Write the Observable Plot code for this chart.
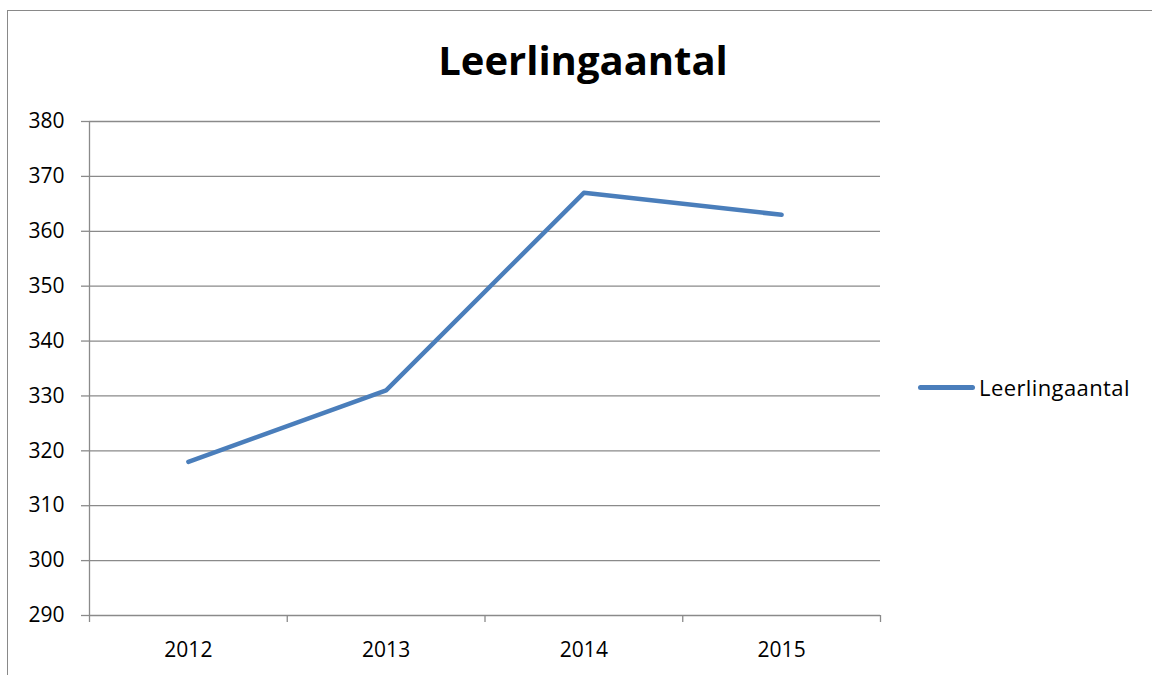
<!DOCTYPE html>
<html>
<head>
<meta charset="utf-8">
<script src="https://cdn.jsdelivr.net/npm/d3@7"></script>
<script src="https://cdn.jsdelivr.net/npm/@observablehq/plot@0.6"></script>
<style>
  html, body { margin: 0; padding: 0; background: #fff; }
  body { width: 1152px; height: 675px; position: relative; overflow: hidden; font-family: "Open Sans", Lato, sans-serif; }
  #frame { position: absolute; left: 7px; top: 10px; width: 1200px; height: 700px; border: 1.5px solid #898989; box-sizing: border-box; }
  #title { position: absolute; left: 0; width: 1166px; top: 32px; text-align: center; font-size: 40px; line-height: 56px; font-weight: bold; color: #000; }
  #chart { position: absolute; left: 0; top: 0; }
  #legend { position: absolute; left: 918px; top: 372px; display: flex; align-items: center; font-size: 22px; letter-spacing: 0.4px; line-height: 30px; color: #000; }
  #legend .swatch { width: 57px; height: 5px; border-radius: 3px; background: #4a7ebb; margin-right: 4px; }
</style>
</head>
<body>
<div id="frame"></div>
<div id="chart"></div>
<div id="title">Leerlingaantal</div>
<div id="legend"><span class="swatch"></span><span>Leerlingaantal</span></div>
<script>
const years = [2012, 2013, 2014, 2015];
const leerlingaantal = [318, 331, 367, 363];
const yTicks = [290, 300, 310, 320, 330, 340, 350, 360, 370, 380];
const xBoundaries = [2011.5, 2012.5, 2013.5, 2014.5, 2015.5];

const data = years.map((year, i) => ({year, value: leerlingaantal[i]}));
const grid = "#8a8a8a";

const plot = Plot.plot({
  width: 1152,
  height: 675,
  marginLeft: 89,
  marginRight: 272,
  marginTop: 121,
  marginBottom: 60,
  style: {fontFamily: "'Open Sans', Lato, sans-serif", fontSize: "21px", color: "#000", background: "transparent", overflow: "visible"},
  x: {domain: [2011.5, 2015.5]},
  y: {domain: [290, 380]},
  marks: [
    Plot.ruleY(yTicks, {stroke: grid, strokeWidth: 1.3}),
    Plot.ruleX([2011.5], {stroke: grid, strokeWidth: 1.3}),
    Plot.axisY({ticks: yTicks, tickSize: 8, tickPadding: 17, stroke: grid, strokeWidth: 1.3, fill: "#000", label: null, tickFormat: d => String(d)}),
    Plot.axisX({ticks: xBoundaries, tickSize: 7, stroke: grid, strokeWidth: 1.3, tickFormat: () => "", label: null}),
    Plot.axisX({ticks: years, tickSize: 0, tickPadding: 27, fill: "#000", tickFormat: d => String(d), label: null}),
    Plot.line(data, {x: "year", y: "value", stroke: "#4a7ebb", strokeWidth: 4.5, strokeLinejoin: "round", strokeLinecap: "round"})
  ]
});
document.getElementById("chart").appendChild(plot);
</script>
</body>
</html>
